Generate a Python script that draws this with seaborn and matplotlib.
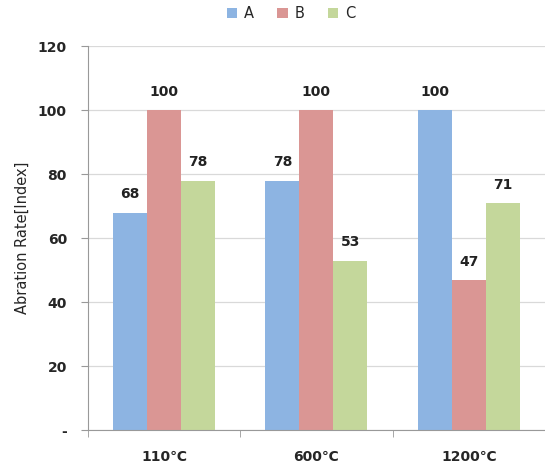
import matplotlib
matplotlib.use("Agg")
import matplotlib.pyplot as plt
import seaborn as sns
import pandas as pd

temps = ["110℃", "600℃", "1200℃"]
series = ["A", "B", "C"]
val_a = [68, 78, 100]
val_b = [100, 100, 47]
val_c = [78, 53, 71]
colors = ["#8DB4E2", "#DA9694", "#C4D79B"]
yticks = [0, 20, 40, 60, 80, 100, 120]
ytick_labels = ["-", "20", "40", "60", "80", "100", "120"]

rows = []
for s, vals in zip(series, [val_a, val_b, val_c]):
    for t, v in zip(temps, vals):
        rows.append({"temp": t, "series": s, "value": v})
df = pd.DataFrame(rows)

sns.set_style("white")
plt.rcParams['font.family'] = ['DejaVu Sans']

fig = plt.figure(figsize=(5.45, 4.66), dpi=100)
ax = fig.add_axes([0.161, 0.077, 0.839, 0.824])

sns.barplot(data=df, x="temp", y="value", hue="series", palette=colors,
            width=0.67, saturation=1, linewidth=0, ax=ax, legend=True)

for c in ax.containers:
    ax.bar_label(c, fmt="%d", padding=8, fontsize=10, fontweight="bold", color="#222222")

ax.set_ylim(0, 120)
ax.set_xlim(-0.5, 2.5)
ax.set_yticks(yticks)
ax.set_yticklabels(ytick_labels, fontsize=10, fontweight="bold")
for lab in ax.get_xticklabels():
    lab.set_fontweight("bold")
    lab.set_fontsize(10)
ax.set_xlabel("")
ax.set_ylabel("Abration Rate[Index]", fontsize=10.5, labelpad=6)

ax.yaxis.grid(True, color="#D9D9D9", linewidth=0.9)
ax.set_axisbelow(True)

# ticks on category boundaries
ax.set_xticks([-0.5, 0.5, 1.5, 2.5], minor=True)
ax.tick_params(axis="x", which="major", length=0, pad=14)
ax.tick_params(axis="x", which="minor", length=5, color="#999999", direction="out", bottom=True)
ax.tick_params(axis="y", length=5, color="#999999", direction="out", left=True, pad=10)

for side in ["top", "right"]:
    ax.spines[side].set_visible(False)
for side in ["left", "bottom"]:
    ax.spines[side].set_color("#999999")
    ax.spines[side].set_linewidth(0.8)

ax.legend(loc="lower center", bbox_to_anchor=(0.445, 1.03), ncol=3, frameon=False,
          handlelength=0.7, handleheight=0.7, handletextpad=0.5, columnspacing=1.6,
          fontsize=10.5)

fig.savefig("out.png", dpi=100)
